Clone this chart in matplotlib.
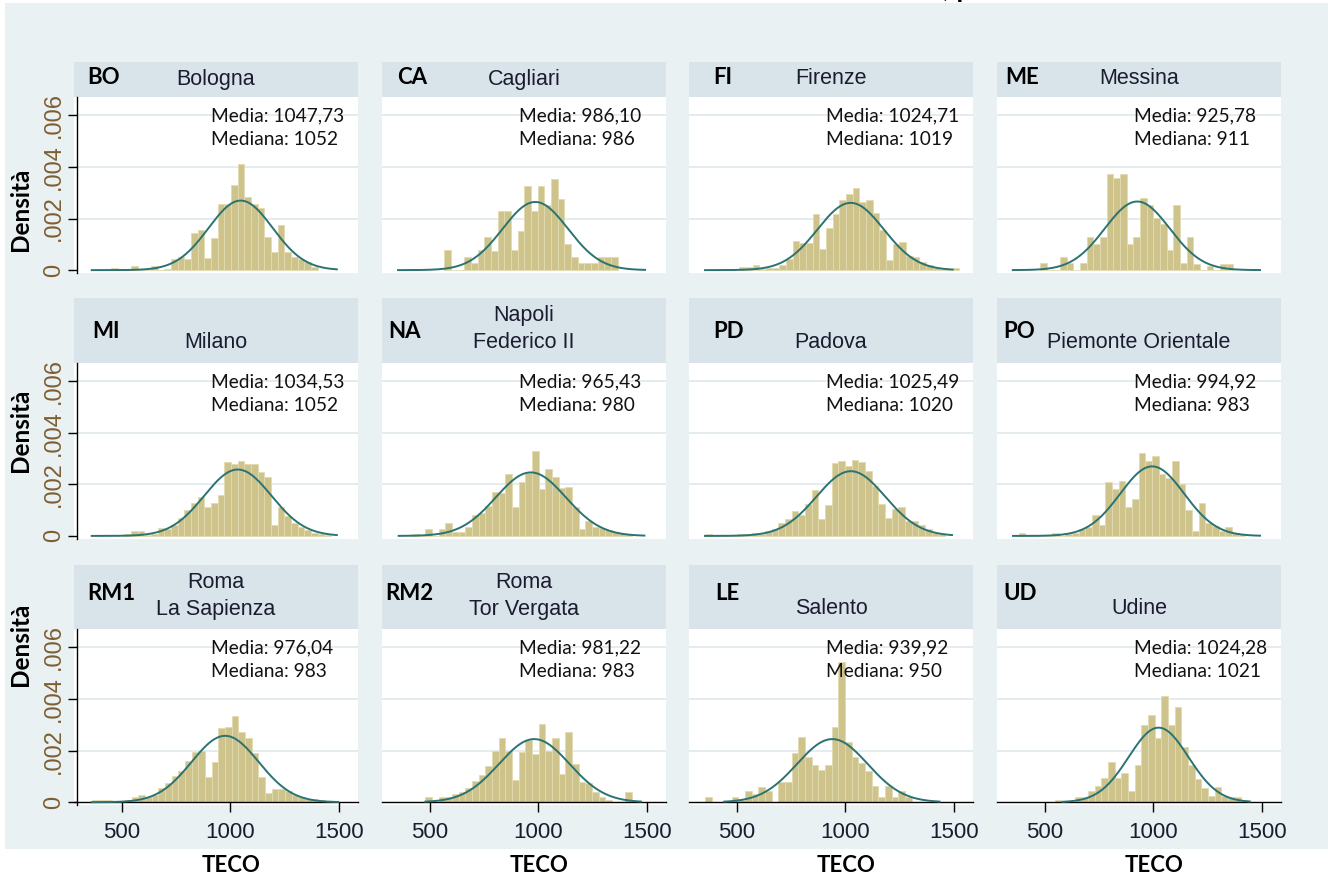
import numpy as np
import matplotlib
matplotlib.use("Agg")
import matplotlib.pyplot as plt
from matplotlib.patches import Rectangle

# ---------------- data ----------------
codes = ['BO', 'CA', 'FI', 'ME', 'MI', 'NA', 'PD', 'PO', 'RM1', 'RM2', 'LE', 'UD']
cities = ['Bologna', 'Cagliari', 'Firenze', 'Messina',
          'Milano', 'Napoli\nFederico II', 'Padova', 'Piemonte Orientale',
          'Roma\nLa Sapienza', 'Roma\nTor Vergata', 'Salento', 'Udine']
media = [1047.73, 986.10, 1024.71, 925.78, 1034.53, 965.43, 1025.49, 994.92,
         976.04, 981.22, 939.92, 1024.28]
mediana = [1052, 986, 1019, 911, 1052, 980, 1020, 983, 983, 983, 950, 1021]
sd = [148, 151, 153, 150, 155, 162, 159, 148, 155, 163, 163, 138]
curve_lo = [360, 352, 352, 351, 360, 355, 352, 352, 360, 478, 440, 580]
curve_hi = [1492, 1493, 1496, 1493, 1492, 1490, 1493, 1493, 1498, 1474, 1435, 1446]

bin_width = 30.8
bin_start = [449, 566, 511, 477, 511, 416, 352, 378, 360, 478, 352, 544]

# bar heights in units of 0.001
dens_bo = [0.07, 0, 0, 0.17, 0, 0, 0.17, 0, 0.05, 0.43, 0.5, 0.43, 1.44, 1.57, 0.48, 1.25, 2.55, 2.55,
           3.3, 4.1, 2.85, 2.55, 2.42, 1.28, 0.69, 1.76, 0.69, 0.5, 0.43, 0.3, 0.13]
dens_ca = [0.77, 0, 0, 0.52, 0.26, 0.77, 1.28, 0.76, 2.28, 2.28, 0.77, 1.5, 3.28, 2.28, 3.28, 2.54,
           3.54, 2.76, 1.02, 0.52, 0.26, 0.26, 0.26, 0.52, 0.52, 0.52]
dens_fi = [0.13, 0.13, 0.19, 0.05, 0.08, 0.1, 0.2, 0.45, 1.14, 1.07, 1.07, 2.16, 0.82, 1.63, 2.16,
           2.72, 2.95, 3.17, 2.65, 2.73, 2.22, 1.55, 0.39, 1.0, 1.09, 0.55, 0.5, 0.33, 0.2, 0.1,
           0.05, 0.03, 0.07]
dens_me = [0.26, 0, 0, 0.5, 0.26, 0, 0.26, 1.28, 1.03, 1.28, 3.73, 3.56, 3.73, 1.03, 1.28, 2.79,
           2.53, 2.04, 1.78, 0.77, 2.53, 0.26, 1.28, 0.22, 0, 0.15, 0, 0.22, 0.22]
dens_mi = [0.08, 0.2, 0.2, 0.05, 0.08, 0.32, 0.26, 0.43, 0.69, 1.01, 1.27, 1.5, 1.14, 1.27, 1.57,
           2.86, 2.79, 2.9, 2.79, 2.77, 2.48, 2.27, 0.43, 1.14, 0.78, 0.49, 0.34, 0.23, 0.13,
           0.06, 0.03]
dens_na = [0.06, 0, 0.26, 0, 0.26, 0.49, 0.17, 0.17, 0.34, 0.82, 0.88, 1.17, 1.7, 1.66, 2.4, 1.14,
           2.09, 2.44, 3.29, 1.83, 2.6, 2.27, 1.86, 1.9, 1.14, 0.26, 0.56, 0.36, 0.3, 0.22, 0.15,
           0.1, 0.06]
dens_pd = [0.06, 0, 0, 0, 0, 0.06, 0.03, 0.13, 0.08, 0.19, 0.26, 0.49, 0.65, 0.95, 0.82, 1.25,
           1.77, 0.65, 1.18, 2.83, 2.9, 2.7, 2.96, 2.86, 2.53, 1.95, 1.25, 0.69, 1.04, 1.14, 0.58,
           0.58, 0.43, 0.26, 0.13, 0.08]
dens_po = [0.13, 0, 0, 0, 0, 0.1, 0, 0.06, 0.1, 0.26, 0.36, 0.82, 0.43, 2.09, 1.82, 2.14, 1.14,
           1.44, 3.22, 2.9, 3.09, 2.4, 2.25, 2.9, 2.03, 1.01, 0.19, 1.27, 0.49, 0.39, 0.2, 0.34,
           0.13, 0.06]
dens_rm1 = [0.09, 0.09, 0.09, 0.06, 0.06, 0.1, 0.22, 0.28, 0.19, 0.28, 0.54, 0.76, 1.02, 1.21,
            1.6, 1.96, 2.0, 0.99, 1.54, 2.86, 2.93, 3.35, 2.74, 2.48, 1.92, 0.97, 0.37, 0.53,
            0.53, 0.44, 0.28, 0.19, 0.13, 0.13, 0.09, 0.06, 0.06]
dens_rm2 = [0.22, 0, 0.2, 0.2, 0.3, 0.39, 0.56, 0.84, 1.06, 1.39, 1.99, 2.5, 2.0, 0.87, 1.95, 2.4,
            1.88, 3.03, 2.0, 2.5, 1.1, 2.73, 1.49, 0.78, 0.74, 0.39, 0.2, 0.1, 0, 0, 0.39]
dens_le = [0.19, 0, 0, 0, 0.19, 0.08, 0.45, 0.3, 0.6, 0.45, 0, 0.79, 0.79, 1.9, 2.53, 1.75, 1.44,
           1.25, 1.45, 2.92, 5.42, 2.34, 1.75, 1.52, 1.22, 0.64, 0.19, 0.64, 0.19, 0.45, 0.19]
dens_ud = [0.09, 0, 0, 0.2, 0.2, 0.45, 0.62, 0.95, 1.56, 0.95, 1.14, 0.45, 1.43, 2.99, 3.38, 2.5,
           4.12, 3.0, 3.68, 2.14, 1.43, 0.91, 0.56, 0.26, 0.58, 0.26, 0.2, 0.2, 0.1]
densities = [dens_bo, dens_ca, dens_fi, dens_me, dens_mi, dens_na, dens_pd, dens_po,
             dens_rm1, dens_rm2, dens_le, dens_ud]

x_ticks = [500, 1000, 1500]
y_ticks = [0, 0.002, 0.004, 0.006]
y_ticklabels = ['0', '.002', '.004', '.006']
title_fragment = ', p'

# ---------------- style ----------------
W, H = 1328, 881
BG = '#e9f1f3'
STRIP = '#d8e4ea'
BAR = '#cdc38b'
BAR_EDGE = '#e2dbb0'
CURVE = '#2a7372'
GRID = '#e4ecf0'
STATA_TXT = '#1c1c30'
YTICK_TXT = '#7e5e32'
SANS = ['Lato', 'DejaVu Sans']
STATA = ['Liberation Sans', 'DejaVu Sans']

fig = plt.figure(figsize=(W / 100, H / 100), dpi=100, facecolor='white')
fig.patches.append(Rectangle((5 / W, 1 - 849 / H), 1 - 5 / W, (849 - 3) / H,
                             transform=fig.transFigure, facecolor=BG, edgecolor='none',
                             zorder=-10))


def fx(x):
    return x / W


def fy(y):
    return 1 - y / H


col_left = [74, 382, 689, 997]
plot_w = 284
row_plot_top = [97.3, 363.1, 629.4]
row_strip_top = [62, 298, 565]
plot_h = 175.4
XLIM = (278, 278 + plot_w / 0.2165)
YLIM = (-0.0001, 0.0067)

code_x = [87, 397, 713, 1005, 92, 388, 713, 1003, 87, 385, 715, 1003]
code_y = [78, 331, 593]
city_y1 = [79, 316, 582]
city_y2 = [79, 343, 609]
densita_y = [209, 430, 644]

# truncated title at the very top (only descenders visible, as in the reference)
fig.text(fx(943), 1 + 2.5 / H, title_fragment, family=SANS, fontweight='bold',
         fontsize=20, ha='left', va='baseline', color='black')

for i in range(12):
    r, c = divmod(i, 4)
    L = col_left[c]
    T = row_plot_top[r]
    # strip
    st = fig.add_axes([fx(L), fy(T), fx(plot_w), (T - row_strip_top[r]) / H])
    st.set_facecolor(STRIP)
    st.set_xticks([]); st.set_yticks([])
    for s in st.spines.values():
        s.set_visible(False)

    ax = fig.add_axes([fx(L), fy(T + plot_h), fx(plot_w), plot_h / H])
    ax.set_facecolor('white')
    ax.set_xlim(*XLIM)
    ax.set_ylim(*YLIM)
    for yv in y_ticks[1:]:
        ax.axhline(yv, color=GRID, lw=1.4, zorder=0.5)

    heights = np.array(densities[i]) * 1e-3
    lefts = bin_start[i] + bin_width * np.arange(len(heights))
    ax.bar(lefts, heights, width=bin_width, align='edge', color=BAR,
           edgecolor=BAR_EDGE, linewidth=0.6, zorder=2)

    xs = np.linspace(curve_lo[i], curve_hi[i], 300)
    ys = np.exp(-0.5 * ((xs - media[i]) / sd[i]) ** 2) / (sd[i] * np.sqrt(2 * np.pi))
    ax.plot(xs, ys, color=CURVE, lw=1.4, zorder=3)

    for s in ['top', 'right']:
        ax.spines[s].set_visible(False)
    if c == 0:
        ax.spines['left'].set_position(('axes', 0.011))
        ax.spines['left'].set_color('black')
        ax.spines['left'].set_linewidth(1.0)
        ax.set_yticks(y_ticks)
        ax.set_yticklabels(y_ticklabels, rotation=90, va='center',
                           family=STATA, fontsize=17, color=YTICK_TXT)
        ax.tick_params(axis='y', direction='out', length=6.5, width=1.0, pad=2)
    else:
        ax.spines['left'].set_visible(False)
        ax.set_yticks([])
    if r == 2:
        ax.spines['bottom'].set_position(('data', 0))
        ax.spines['bottom'].set_color('black')
        ax.spines['bottom'].set_linewidth(1.0)
        ax.set_xticks(x_ticks)
        ax.set_xticklabels([str(v) for v in x_ticks], family=STATA, fontsize=16,
                           color=STATA_TXT)
        ax.tick_params(axis='x', direction='out', length=7.5, width=1.0, pad=7)
    else:
        ax.spines['bottom'].set_visible(False)
        ax.set_xticks([])

    # strip texts
    fig.text(fx(code_x[i]), fy(code_y[r]), codes[i], family=SANS, fontweight='bold',
             fontsize=16, color='black', ha='left', va='center')
    cx = L + plot_w / 2
    parts = cities[i].split('\n')
    if len(parts) == 2:
        fig.text(fx(cx), fy(city_y1[r]), parts[0], family=STATA, fontsize=15.5,
                 color=STATA_TXT, ha='center', va='center')
        fig.text(fx(cx), fy(city_y2[r]), parts[1], family=STATA, fontsize=15.5,
                 color=STATA_TXT, ha='center', va='center')
    else:
        fig.text(fx(cx), fy(city_y2[r]), parts[0], family=STATA, fontsize=15.5,
                 color=STATA_TXT, ha='center', va='center')

    # annotation
    ml = f"Media: {media[i]:.2f}".replace('.', ',')
    md = f"Mediana: {mediana[i]}"
    fig.text(fx(L + 137), fy(T + 18.5), ml, family=SANS, fontsize=13.8, color='#111111',
             ha='left', va='center')
    fig.text(fx(L + 137), fy(T + 42), md, family=SANS, fontsize=13.8, color='#111111',
             ha='left', va='center')

    if c == 0:
        fig.text(fx(21), fy(densita_y[r]), 'Densità', family=SANS, fontweight='bold',
                 fontsize=17.5, rotation=90, ha='center', va='center', color='black')
    if r == 2:
        fig.text(fx(L + 157), fy(866), 'TECO', family=SANS, fontweight='bold',
                 fontsize=16, ha='center', va='center', color='black')

fig.savefig('out.png', dpi=100, facecolor='white')
